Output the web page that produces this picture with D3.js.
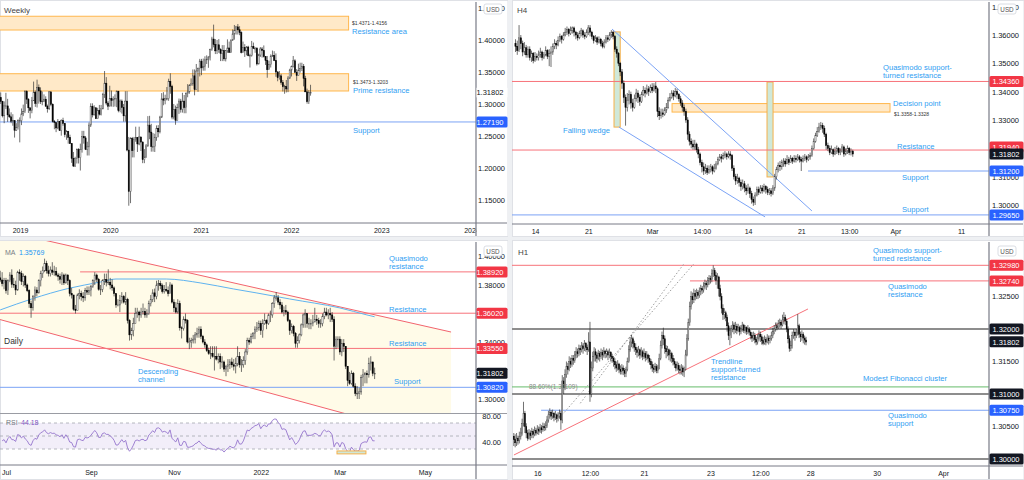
<!DOCTYPE html>
<html>
<head>
<meta charset="utf-8">
<script src="https://cdn.jsdelivr.net/npm/d3@7"></script>
<style>
  body { margin: 0; background: #fff; }
  svg { display: block; font-family: "Liberation Sans", Arial, sans-serif; }
</style>
</head>
<body>
<div id="wrapper"></div>
<script>
// ---------- data (prices in pips: 13040 = 1.3040) ----------
// weekly GBP/USD, week of 15 Oct 2018 onwards
var weeklyOpen0 = 13100;
var weeklyClose = [13040,12815,12970,12970,12830,12800,12730,12740,12590,12630,12740,12740,
  12845,12880,13195,13075,12940,12900,13050,13185,13010,13255,13205,13035,13045,13075,12965,12925,13190,12995,12725,12710,12625,12730,12585,12745,12695,12520,12570,12480,12380,12150,12030,12150,12285,12160,12290,12495,12470,12290,12330,12670,12965,12830,12940,12770,12900,12840,12925,13150,13325,13015,12965,13085,
  13055,13070,13085,13200,12895,13045,12945,12815,13045,12280,11635,12460,12270,12450,12475,12375,12485,12405,12130,12170,12345,12670,12560,12335,12335,12480,12620,12565,12795,13080,13060,13085,13085,13355,13275,12795,12915,12745,12945,13045,12915,13045,12945,13165,13190,13285,13315,13440,13225,13515,13555,13670,
  13565,13590,13690,13700,13735,13850,14015,13930,13830,13925,13850,13790,13835,13705,13835,13875,13805,14000,14095,14145,14205,14160,14115,13805,13885,13830,13890,13755,13760,13900,13870,13870,13625,13765,13860,13835,13740,13680,13535,13615,13745,13755,13680,13500,13410,13440,13335,13270,13270,13235,13405,13530,
  13585,13675,13495,13445,13525,13555,13590,13400,13190,13035,13180,13180];
var weeklyHigh = [13180,13050,13040,13175,13080,12930,12870,12840,12670,12700,12760,12790,
  12930,12990,13215,13215,13090,12950,13110,13350,13210,13380,13305,13260,13195,13150,13120,12990,13200,13180,13010,12750,12700,12765,12735,12760,12785,12700,12590,12580,12520,12380,12250,12175,12305,12310,12380,12580,12580,12500,12410,12710,13010,13010,12980,12950,12940,12985,12985,13175,13515,13420,13045,13285,
  13210,13120,13150,13210,13205,13070,13070,13000,13200,13200,12485,12480,12485,12485,12645,12480,12645,12485,12415,12295,12375,12810,12815,12690,12545,12535,12665,12670,12815,13170,13185,13145,13265,13395,13480,13300,13000,12975,13005,13085,13080,13175,13140,13180,13310,13310,13400,13540,13540,13625,13570,13705,
  13705,13710,13745,13760,13745,13865,14050,14240,14015,14000,14015,13870,13920,13920,13840,14010,13975,14005,14165,14235,14220,14250,14215,14135,13975,13935,13905,13910,13785,13985,13960,13890,13890,13785,13890,13890,13915,13750,13750,13675,13775,13835,13825,13790,13515,13515,13470,13375,13300,13375,13435,13550,
  13600,13750,13700,13545,13630,13645,13645,13625,13440,13240,13215,13300];
var weeklyLow = [13000,12790,12700,12920,12720,12780,12700,12660,12475,12580,12600,12400,
  12670,12810,12860,13000,12860,12775,12855,13080,12955,12945,13005,13000,12980,13030,12960,12865,12905,12965,12710,12605,12560,12605,12580,12505,12660,12480,12440,12380,12375,12080,12015,12015,12070,12070,11960,12240,12380,12280,12195,12195,12640,12790,12820,12765,12770,12820,12820,12915,13095,12980,12905,13075,
  12960,12955,12960,12950,12870,12870,12850,12725,12725,12260,11410,11450,12165,12165,12410,12250,12355,12265,12075,12075,12160,12330,12450,12255,12255,12250,12425,12480,12540,12780,12980,12995,13055,13050,13160,12760,12760,12675,12800,12845,12865,12865,12855,12855,13105,13160,13300,13285,13135,13230,13190,13430,
  13450,13520,13520,13625,13565,13680,13830,13885,13780,13780,13800,13670,13670,13670,13665,13800,13805,13800,13985,14005,14085,14085,14075,13790,13830,13735,13760,13745,13570,13740,13860,13800,13600,13620,13735,13725,13725,13610,13410,13545,13570,13735,13670,13425,13355,13380,13300,13195,13160,13180,13185,13390,
  13430,13570,13490,13360,13445,13490,13515,13275,13185,13005,13000,13130];
var weeklyYears = [2019, 2020, 2021, 2022, 2023, 2024];
var weeklyTicks = [1.45, 1.40, 1.35, 1.30, 1.25, 1.20, 1.15];
var weeklyZones = [[1.4371, 1.4156], [1.3473, 1.3203]];
var weeklySupport = 1.2719;

// daily, trading days from 28 Jun 2021 to 25 Mar 2022
var dailyOpen0 = 13850;
var dailyClose = [13835,13810,13830,13760,13830,13870,13805,13800,13765,13890,
  13880,13825,13860,13800,13760,13670,13640,13720,13765,13745,
  13830,13880,13900,13950,13900,13880,13905,13890,13895,13870,
  13860,13840,13870,13815,13870,13830,13740,13730,13630,13620,
  13730,13740,13720,13710,13760,13750,13760,13790,13830,13870,
  13840,13770,13770,13830,13840,13820,13820,13800,13780,13740,
  13660,13660,13690,13720,13680,13700,13550,13450,13480,13530,
  13600,13610,13590,13610,13615,13590,13600,13670,13700,13745,
  13720,13800,13810,13795,13755,13770,13760,13740,13800,13680,
  13640,13610,13670,13500,13495,13560,13550,13400,13400,13410,
  13420,13450,13460,13490,13440,13400,13380,13340,13320,13320,
  13300,13300,13280,13300,13260,13260,13210,13230,13240,13260,
  13240,13230,13250,13300,13240,13240,13270,13330,13410,13400,
  13440,13460,13490,13500,13530,13480,13530,13550,13530,13590,
  13590,13670,13710,13710,13680,13660,13610,13620,13610,13550,
  13480,13510,13460,13390,13410,13450,13520,13590,13600,13530,
  13530,13530,13540,13560,13550,13530,13530,13580,13610,13590,
  13600,13590,13560,13370,13420,13420,13330,13390,13370,13230,
  13130,13110,13180,13090,13040,13040,13050,13150,13170,13180,
  13170,13250,13260,13180,13180];
var dailyHigh = [13900,13890,13850,13850,13840,13890,13910,13850,13830,13900,
  13910,13900,13880,13870,13810,13770,13690,13730,13790,13785,
  13840,13900,13930,13985,13970,13935,13930,13960,13935,13925,
  13885,13880,13890,13880,13880,13875,13840,13780,13730,13660,
  13740,13770,13760,13750,13780,13790,13790,13800,13840,13890,
  13880,13850,13800,13840,13880,13880,13910,13850,13840,13790,
  13740,13700,13730,13750,13730,13750,13710,13560,13500,13570,
  13640,13640,13620,13640,13670,13640,13630,13690,13730,13770,
  13775,13830,13835,13830,13810,13800,13820,13790,13820,13810,
  13700,13680,13700,13690,13510,13580,13600,13560,13430,13430,
  13450,13470,13500,13510,13510,13450,13420,13390,13360,13370,
  13370,13370,13370,13320,13320,13300,13270,13240,13280,13280,
  13290,13280,13290,13370,13330,13280,13300,13350,13430,13430,
  13460,13470,13510,13540,13550,13550,13560,13600,13560,13600,
  13620,13680,13730,13750,13730,13700,13680,13650,13660,13620,
  13560,13530,13520,13470,13440,13460,13530,13600,13630,13600,
  13570,13560,13590,13640,13590,13570,13560,13600,13640,13640,
  13630,13640,13610,13580,13440,13440,13440,13420,13420,13370,
  13230,13190,13200,13190,13110,13090,13080,13170,13210,13190,
  13200,13290,13300,13250,13220];
var dailyLow = [13820,13790,13770,13740,13730,13820,13780,13780,13730,13760,
  13830,13800,13790,13780,13750,13640,13570,13620,13690,13720,
  13740,13790,13850,13890,13880,13860,13860,13870,13865,13860,
  13830,13810,13800,13800,13810,13800,13720,13705,13620,13600,
  13620,13700,13690,13680,13690,13730,13730,13720,13780,13800,
  13820,13760,13730,13750,13800,13790,13800,13770,13760,13720,
  13640,13650,13610,13670,13670,13660,13530,13410,13415,13440,
  13530,13570,13545,13570,13590,13570,13570,13590,13650,13680,
  13680,13700,13760,13770,13740,13740,13750,13720,13740,13670,
  13610,13600,13600,13480,13425,13480,13530,13390,13350,13360,
  13390,13390,13430,13430,13420,13390,13360,13330,13310,13280,
  13290,13200,13270,13250,13210,13220,13190,13160,13190,13210,
  13220,13200,13180,13230,13220,13190,13220,13240,13310,13380,
  13390,13420,13420,13470,13480,13450,13430,13520,13490,13520,
  13540,13570,13640,13690,13660,13630,13600,13580,13590,13540,
  13450,13460,13440,13360,13360,13390,13440,13500,13500,13500,
  13490,13490,13510,13540,13520,13500,13500,13510,13560,13580,
  13560,13540,13540,13270,13350,13360,13310,13300,13330,13210,
  13090,13100,13100,13080,13020,13000,13000,13030,13090,13110,
  13110,13150,13200,13160,13140];
// moving average at a few bars
var maIndex = [0, 17, 35, 52, 60, 86, 104, 121, 133, 150, 176, 190, 194];
var maValue = [1.3625, 1.3705, 1.3775, 1.3821, 1.3842, 1.3842, 1.3814, 1.3772, 1.3744, 1.3702, 1.3639, 1.3590, 1.3577];
var maLabel = "1.35769";
var rsiLabel = "44.18";
var dailyTickIndex = [3, 47, 90, 135, 176, 220];
var dailyTickLabel = ["Jul", "Sep", "Nov", "2022", "Mar", "May"];
var dailyTicks = [1.40, 1.38, 1.34, 1.30];
var dailyChannelTop = [[29.4, 1.4095], [233.6, 1.3470]];
var dailyChannelBottom = [[-10, 1.3594], [233.6, 1.2695]];
var rsiTicks = [80, 40];

// H4, last 191 bars
var h4Open0 = 13570;
var h4Close = [13560,13545,13590,13570,13540,13555,13530,13550,13520,13535,
  13510,13525,13520,13530,13540,13520,13530,13545,13525,13535,
  13540,13560,13570,13565,13580,13595,13585,13600,13610,13620,
  13605,13615,13625,13610,13600,13590,13605,13615,13600,13595,
  13610,13625,13610,13595,13580,13590,13575,13585,13570,13560,
  13575,13590,13585,13600,13610,13595,13550,13535,13500,13470,
  13430,13380,13345,13370,13390,13360,13345,13375,13395,13380,
  13365,13390,13405,13395,13410,13400,13415,13405,13420,13410,
  13330,13315,13325,13320,13335,13345,13370,13380,13395,13385,
  13400,13390,13375,13360,13345,13330,13300,13250,13225,13215,
  13205,13215,13195,13180,13150,13135,13120,13130,13115,13125,
  13135,13120,13130,13145,13160,13170,13165,13175,13180,13170,
  13180,13175,13130,13100,13085,13095,13080,13065,13075,13060,
  13050,13060,13040,13020,13010,13035,13055,13045,13060,13050,
  13065,13055,13045,13050,13040,13060,13100,13125,13140,13135,
  13150,13155,13145,13160,13150,13165,13155,13165,13160,13170,
  13160,13155,13165,13170,13160,13170,13175,13200,13225,13245,
  13260,13275,13280,13270,13250,13210,13200,13185,13195,13180,
  13190,13200,13185,13190,13205,13180,13190,13200,13185,13190,13180];
var h4High = [13585,13580,13635,13600,13580,13575,13565,13560,13560,13545,
  13540,13540,13535,13545,13555,13545,13540,13560,13550,13550,
  13560,13570,13585,13580,13595,13605,13600,13610,13625,13630,
  13625,13630,13630,13630,13615,13610,13615,13625,13620,13610,
  13620,13635,13635,13615,13600,13600,13595,13595,13590,13580,
  13585,13600,13600,13610,13617,13615,13600,13560,13540,13505,
  13480,13440,13390,13395,13405,13400,13375,13390,13410,13405,
  13390,13400,13420,13415,13425,13420,13425,13430,13430,13434,
  13415,13345,13340,13340,13345,13360,13380,13395,13405,13405,
  13413,13410,13395,13385,13370,13355,13340,13310,13260,13235,
  13230,13230,13220,13205,13185,13160,13150,13145,13140,13140,
  13145,13140,13145,13155,13170,13180,13180,13185,13190,13185,
  13190,13190,13180,13140,13110,13110,13100,13090,13090,13085,
  13070,13075,13065,13050,13030,13045,13065,13065,13070,13070,
  13075,13070,13065,13060,13060,13070,13110,13135,13150,13155,
  13160,13165,13165,13176,13170,13176,13170,13176,13175,13180,
  13176,13170,13175,13180,13175,13180,13185,13210,13235,13255,
  13275,13290,13293,13290,13280,13255,13220,13210,13210,13200,
  13205,13210,13205,13200,13215,13210,13200,13210,13205,13200,13195];
var h4Low = [13540,13530,13540,13550,13525,13530,13520,13520,13510,13505,
  13500,13505,13510,13510,13520,13510,13515,13525,13515,13490,
  13487,13530,13550,13550,13560,13575,13570,13580,13595,13600,
  13595,13600,13605,13595,13585,13580,13585,13595,13590,13585,
  13590,13600,13595,13585,13570,13575,13565,13570,13560,13553,
  13553,13570,13575,13580,13590,13585,13540,13520,13490,13455,
  13410,13360,13280,13330,13355,13340,13330,13340,13365,13360,
  13350,13360,13385,13380,13390,13385,13395,13395,13400,13395,
  13310,13300,13305,13310,13315,13325,13340,13365,13375,13370,
  13380,13375,13365,13350,13330,13315,13290,13230,13210,13200,
  13195,13195,13185,13165,13140,13115,13106,13110,13106,13110,
  13115,13108,13115,13125,13140,13155,13150,13160,13165,13160,
  13165,13160,13120,13090,13071,13075,13065,13050,13055,13045,
  13035,13040,13025,13005,12997,13000,13030,13035,13040,13040,
  13045,13040,13035,13035,13030,13035,13050,13090,13115,13120,
  13125,13135,13135,13145,13141,13150,13145,13150,13150,13155,
  13150,13120,13150,13155,13150,13155,13160,13170,13195,13220,
  13240,13255,13265,13255,13240,13195,13190,13176,13180,13170,
  13176,13180,13176,13176,13185,13170,13175,13180,13176,13175,13170];
var h4TickIndex = [11, 41, 77, 105, 131, 161, 188, 214, 251];
var h4TickLabel = ["14", "21", "Mar", "14:00", "14", "21", "13:00", "Apr", "11"];
var h4Ticks = [1.37, 1.36, 1.35, 1.34, 1.33, 1.31, 1.30];
var h4WedgeTop = [[54.4, 1.3621], [167, 1.2979]];
var h4WedgeBottom = [[58.3, 1.3275], [140.6, 1.2958]];
var h4Highlights = [[55.5, 59, 1.3611, 1.3275], [141.7, 145.1, 1.3434, 1.3099]];
var h4Decision = [88.2, 211, 1.3358, 1.3328];

// H1, last 212 bars
var h1Open0 = 13035;
var h1Close = [13030,13025,13032,13028,13035,13040,13055,13070,13050,13040,
  13032,13040,13036,13042,13038,13044,13040,13046,13043,13048,
  13045,13050,13048,13052,13060,13068,13072,13066,13070,13064,
  13068,13062,13066,13070,13060,13120,13110,13130,13142,13138,
  13150,13146,13155,13152,13160,13165,13162,13170,13168,13174,
  13170,13178,13172,13168,13180,13100,13140,13158,13165,13160,
  13155,13162,13158,13164,13160,13166,13162,13165,13160,13164,
  13158,13155,13150,13145,13140,13146,13138,13135,13140,13136,
  13132,13138,13150,13168,13180,13185,13178,13172,13168,13164,
  13168,13160,13165,13158,13162,13156,13160,13155,13150,13145,
  13140,13138,13142,13136,13140,13155,13175,13190,13185,13170,
  13165,13168,13160,13162,13155,13150,13146,13140,13144,13138,
  13136,13140,13134,13138,13160,13185,13210,13235,13250,13245,
  13255,13250,13256,13252,13258,13262,13260,13266,13270,13268,
  13274,13278,13276,13285,13290,13282,13275,13280,13262,13250,
  13232,13222,13225,13218,13205,13190,13198,13200,13206,13200,
  13204,13198,13202,13196,13200,13206,13198,13202,13196,13200,
  13195,13190,13186,13190,13184,13180,13186,13192,13188,13182,
  13178,13184,13180,13186,13182,13185,13190,13196,13200,13205,
  13202,13208,13210,13206,13214,13218,13212,13200,13185,13170,
  13175,13190,13195,13190,13194,13205,13192,13188,13192,13186,13183,13180];
var h1High = [13040,13038,13040,13036,13042,13048,13062,13088,13074,13055,
  13045,13046,13044,13048,13046,13050,13048,13052,13050,13054,
  13052,13056,13055,13058,13066,13074,13078,13075,13076,13072,
  13074,13070,13072,13076,13074,13129,13126,13138,13150,13148,
  13158,13156,13160,13160,13166,13172,13170,13176,13175,13180,
  13178,13183,13180,13176,13195,13211,13150,13165,13172,13170,
  13165,13168,13166,13170,13168,13172,13168,13170,13168,13170,
  13166,13162,13158,13155,13150,13152,13148,13144,13146,13144,
  13140,13142,13156,13175,13188,13191,13188,13182,13178,13172,
  13174,13170,13172,13168,13170,13166,13166,13162,13160,13154,
  13150,13146,13148,13146,13145,13162,13182,13196,13202,13190,
  13175,13174,13170,13168,13165,13160,13155,13150,13150,13148,
  13144,13146,13144,13142,13168,13192,13216,13242,13258,13256,
  13262,13260,13262,13260,13264,13268,13266,13272,13276,13274,
  13280,13283,13282,13292,13298,13294,13288,13286,13282,13268,
  13255,13238,13232,13228,13222,13210,13204,13206,13212,13210,
  13211,13208,13208,13205,13206,13211,13208,13206,13204,13206,
  13203,13198,13195,13196,13194,13188,13192,13198,13196,13192,
  13188,13190,13188,13192,13190,13190,13196,13202,13206,13210,
  13210,13214,13216,13214,13222,13226,13222,13216,13204,13190,
  13182,13196,13200,13198,13200,13223,13208,13196,13198,13195,13190,13188];
var h1Low = [13020,13018,13020,13022,13024,13030,13036,13050,13040,13032,
  13028,13030,13029,13032,13032,13035,13036,13038,13037,13040,
  13039,13042,13043,13044,13048,13056,13062,13060,13062,13058,
  13060,13056,13058,13062,13045,13055,13100,13106,13125,13130,
  13135,13140,13142,13145,13148,13155,13156,13158,13160,13164,
  13162,13166,13165,13160,13165,13088,13095,13135,13150,13150,
  13148,13152,13150,13154,13152,13156,13155,13156,13152,13155,
  13150,13148,13142,13138,13134,13136,13132,13130,13130,13129,
  13126,13126,13135,13148,13165,13172,13170,13165,13160,13156,
  13158,13154,13156,13152,13154,13150,13152,13148,13145,13138,
  13134,13132,13134,13132,13132,13138,13152,13170,13175,13162,
  13155,13158,13152,13150,13148,13144,13140,13135,13136,13132,
  13130,13130,13128,13126,13136,13158,13182,13205,13230,13238,
  13240,13244,13246,13246,13248,13252,13254,13256,13262,13260,
  13264,13268,13270,13272,13280,13275,13268,13262,13250,13244,
  13224,13214,13215,13212,13196,13183,13175,13186,13195,13192,
  13194,13192,13195,13190,13192,13196,13194,13193,13191,13192,
  13190,13184,13180,13182,13178,13175,13176,13182,13180,13176,
  13175,13176,13175,13178,13176,13178,13182,13186,13192,13196,
  13198,13200,13202,13200,13204,13208,13206,13195,13178,13165,
  13166,13170,13185,13182,13186,13190,13186,13180,13182,13178,13176,13175];
var h1TickIndex = [17, 55, 94, 142, 178, 214, 262, 310];
var h1TickLabel = ["16", "12:00", "21", "23", "12:00", "28", "30", "Apr"];
var h1Ticks = [1.325, 1.315, 1.305];
var h1Trend = [[0.1, 1.30062], [212.4, 1.32308]];
var h1FibA = [[48, 1.30857], [122.7, 1.3300]];
var h1FibB = [[34.8, 1.30677], [129.9, 1.3300]];

var last = 1.31802;

// ---------- helpers ----------
var P = 10000;
var blueText = "#2f9ef2", redLine = "#f7727a", blueLine = "#7ba3f5";

function toCandles(open0, close, high, low) {
  return close.map(function(c, i) {
    var o = i ? close[i - 1] : open0;
    return { i: i, o: o / P, c: c / P,
      h: Math.max(high[i], o, c) / P, l: Math.min(low[i], o, c) / P };
  });
}

var svg = d3.select("#wrapper").append("svg")
  .attr("width", 1024).attr("height", 480);
var defs = svg.append("defs");

svg.append("rect").attr("width", 1024).attr("height", 480).attr("fill", "#eef0f3");

function clip(id, x, y, w, h) {
  defs.append("clipPath").attr("id", id).append("rect")
    .attr("x", x).attr("y", y).attr("width", w).attr("height", h);
  return "url(#" + id + ")";
}

function drawCandles(g, data, fx, y, bw) {
  var c = g.append("g");
  c.selectAll("line").data(data).enter().append("line")
    .attr("x1", fx).attr("x2", fx)
    .attr("y1", function(d) { return y(d.h); })
    .attr("y2", function(d) { return y(d.l); })
    .attr("stroke", "#333").attr("stroke-width", 0.7);
  c.selectAll("rect").data(data).enter().append("rect")
    .attr("x", function(d) { return fx(d) - bw / 2; })
    .attr("width", bw)
    .attr("y", function(d) { return y(Math.max(d.o, d.c)); })
    .attr("height", function(d) { return Math.max(0.7, Math.abs(y(d.o) - y(d.c))); })
    .attr("fill", function(d) { return d.c >= d.o ? "#fff" : "#000"; })
    .attr("stroke", function(d) { return d.c >= d.o ? "#444" : "#000"; })
    .attr("stroke-width", 0.5);
}

function hline(g, y, x1, x2, color, w, dash) {
  g.append("line").attr("x1", x1).attr("x2", x2).attr("y1", y).attr("y2", y)
    .attr("stroke", color).attr("stroke-width", w || 1)
    .attr("stroke-dasharray", dash || null);
}

function seg(g, pts, x, y, color, w, dash) {
  g.append("line")
    .attr("x1", x(pts[0][0])).attr("y1", y(pts[0][1]))
    .attr("x2", x(pts[1][0])).attr("y2", y(pts[1][1]))
    .attr("stroke", color).attr("stroke-width", w || 1)
    .attr("stroke-dasharray", dash || null);
}

function txt(g, x, y, lines, size, color, lh) {
  var t = g.append("text").attr("x", x).attr("y", y)
    .attr("font-size", size).attr("fill", color);
  lines.forEach(function(s, k) {
    t.append("tspan").attr("x", x).attr("dy", k ? lh : 0).text(s);
  });
  return t;
}

function tag(g, x, w, y, label, bg, fg) {
  g.append("rect").attr("x", x).attr("y", y - 5.5).attr("width", w).attr("height", 11)
    .attr("rx", 1.5).attr("fill", bg);
  g.append("text").attr("x", x + w - 4).attr("y", y + 2.7)
    .attr("text-anchor", "end").attr("font-size", 7.5).attr("fill", fg).text(label);
}

function usdBox(g, x, y) {
  g.append("rect").attr("x", x).attr("y", y).attr("width", 18).attr("height", 10)
    .attr("rx", 2).attr("fill", "#fff").attr("stroke", "#d1d4dc").attr("stroke-width", 0.8);
  g.append("text").attr("x", x + 9).attr("y", y + 7.5).attr("text-anchor", "middle")
    .attr("font-size", 6.3).attr("fill", "#555").text("USD");
}

function priceAxis(g, y, ticks, xText, fmt) {
  g.append("g").attr("transform", "translate(" + xText + ",0)")
    .call(d3.axisLeft(y).tickValues(ticks).tickFormat(fmt || d3.format(".5f"))
      .tickSize(0).tickPadding(0))
    .call(function(a) {
      a.select(".domain").remove();
      a.selectAll("text").attr("font-size", 7.5).attr("fill", "#131722")
        .attr("font-family", null);
    });
}

function dateAxis(g, x, ticks, fmt, yPos) {
  g.append("g").attr("transform", "translate(0," + yPos + ")")
    .call(d3.axisBottom(x).tickValues(ticks).tickFormat(fmt).tickSize(0).tickPadding(5.5))
    .call(function(a) {
      a.select(".domain").remove();
      a.selectAll("text").attr("font-size", 7).attr("fill", "#131722")
        .attr("font-family", null);
    });
}

function frame(x, y, w, h) {
  svg.append("rect").attr("x", x + 0.5).attr("y", y + 0.5).attr("width", w - 1).attr("height", h - 1)
    .attr("fill", "#fff").attr("stroke", "#dfe1e6");
}

function zone(g, x1, x2, y1, y2, fill, stroke) {
  g.append("rect").attr("x", x1).attr("width", x2 - x1)
    .attr("y", Math.min(y1, y2)).attr("height", Math.abs(y2 - y1))
    .attr("fill", fill).attr("stroke", stroke).attr("stroke-width", 1);
}

// ---------- Weekly (top left) ----------
frame(0, 0, 508, 237);
var gW = svg.append("g");
var xW = d3.scaleTime().domain([new Date(2019, 0, 1), new Date(2024, 0, 1)]).range([20, 471.5]);
var yW = d3.scaleLinear().domain([1.114, 1.4625]).range([223, 0]);
var weekStart = new Date(2018, 9, 15);
var weekly = toCandles(weeklyOpen0, weeklyClose, weeklyHigh, weeklyLow);
weekly.forEach(function(d) { d.date = d3.timeWeek.offset(weekStart, d.i); });

var pW = gW.append("g").attr("clip-path", clip("cW", 0, 0, 476, 223));
weeklyZones.forEach(function(z) {
  zone(pW, xW(new Date(2018, 0, 1)), xW(new Date(2022, 7, 22)), yW(z[0]), yW(z[1]), "#ffe9c8", "#ffb74d");
});
hline(pW, yW(weeklySupport), 0, 476, blueLine, 1);
drawCandles(pW, weekly, function(d) { return xW(d.date); }, yW, 1.2);

txt(gW, 4, 13, ["Weekly"], 8, "#444");
txt(gW, 352, 24.5, ["$1.4371-1.4156"], 5, "#333");
txt(gW, 352, 34, ["Resistance area"], 7.6, blueText);
txt(gW, 353, 83.5, ["$1.3473-1.3203"], 5, "#333");
txt(gW, 353, 93, ["Prime resistance"], 7.6, blueText);
txt(gW, 353, 133, ["Support"], 7.6, blueText);

dateAxis(gW, xW, weeklyYears.map(function(y) { return new Date(y, 0, 1); }), d3.timeFormat("%Y"), 223);
gW.append("rect").attr("x", 476.5).attr("y", 1).attr("width", 31).attr("height", 235).attr("fill", "#fff");
hline(gW, 223, 0, 507, "#787b86", 1);
gW.append("line").attr("x1", 476).attr("x2", 476).attr("y1", 2).attr("y2", 236)
  .attr("stroke", "#787b86").attr("stroke-width", 1.2);
priceAxis(gW, yW, weeklyTicks, 505);
tag(gW, 476.5, 31, yW(last), "1.31802", "#fff", "#131722");
tag(gW, 476.5, 31, yW(weeklySupport), "1.27190", "#2962ff", "#fff");
usdBox(gW, 484, 4);

// ---------- H4 (top right) ----------
frame(512, 0, 512, 237);
var gH4 = svg.append("g");
var xH4 = d3.scaleLinear().domain([0, 100]).range([515.5, 515.5 + 177.5]);
var yH4 = d3.scaleLinear().domain([1.30, 1.36]).range([205, 35]);
var h4 = toCandles(h4Open0, h4Close, h4High, h4Low);
var pH4 = gH4.append("g").attr("clip-path", clip("cH4", 512, 0, 477, 224));

zone(pH4, xH4(h4Decision[0]), xH4(h4Decision[1]), yH4(h4Decision[2]), yH4(h4Decision[3]), "#ffe9c8", "#ffb74d");
h4Highlights.forEach(function(r) {
  zone(pH4, xH4(r[0]), xH4(r[1]), yH4(r[2]), yH4(r[3]), "#cfe8d9", "#f5b04b");
});
hline(pH4, yH4(1.3436), 512, 989, redLine, 1);
hline(pH4, yH4(1.3194), 512, 989, redLine, 1);
hline(pH4, yH4(1.312), xH4(164.8), 989, blueLine, 1);
hline(pH4, yH4(1.2965), 512, 989, blueLine, 1);
seg(pH4, h4WedgeTop, xH4, yH4, blueLine, 1);
seg(pH4, h4WedgeBottom, xH4, yH4, blueLine, 1);
drawCandles(pH4, h4, function(d) { return xH4(d.i); }, yH4, 1.2);

txt(gH4, 517, 13, ["H4"], 8, "#444");
txt(gH4, 883, 70, ["Quasimodo support-", "turned resistance"], 7.6, blueText, 8);
txt(gH4, 893, 106, ["Decision point"], 7.6, blueText);
txt(gH4, 894, 115.5, ["$1.3358-1.3328"], 5, "#333");
txt(gH4, 563, 133, ["Falling wedge"], 7.6, blueText);
txt(gH4, 897, 149, ["Resistance"], 7.6, blueText);
txt(gH4, 902, 180, ["Support"], 7.6, blueText);
txt(gH4, 902, 212, ["Support"], 7.6, blueText);

dateAxis(gH4, xH4, h4TickIndex, function(d, k) { return h4TickLabel[k]; }, 224);
gH4.append("rect").attr("x", 989.5).attr("y", 1).attr("width", 34).attr("height", 235).attr("fill", "#fff");
hline(gH4, 224, 512, 1023, "#787b86", 1);
gH4.append("line").attr("x1", 989).attr("x2", 989).attr("y1", 2).attr("y2", 236)
  .attr("stroke", "#787b86").attr("stroke-width", 1.2);
priceAxis(gH4, yH4, h4Ticks, 1019);
tag(gH4, 989.5, 34, yH4(1.3436), "1.34360", "#f23645", "#fff");
tag(gH4, 989.5, 34, yH4(1.3194) - 3, "1.31940", "#f23645", "#fff");
tag(gH4, 989.5, 34, yH4(last), "1.31802", "#131722", "#fff");
tag(gH4, 989.5, 34, yH4(1.312), "1.31200", "#2962ff", "#fff");
tag(gH4, 989.5, 34, yH4(1.2965), "1.29650", "#2962ff", "#fff");
usdBox(gH4, 998, 4);

// ---------- Daily (bottom left) ----------
frame(0, 240, 508, 240);
var gD = svg.append("g");
var xD = d3.scaleLinear().domain([0, 100]).range([0.2, 193.2]);
var yD = d3.scaleLinear().domain([1.30, 1.40]).range([399, 256.5]);
var yR = d3.scaleLinear().domain([30, 70]).range([449, 423]);
var daily = toCandles(dailyOpen0, dailyClose, dailyHigh, dailyLow);
var pD = gD.append("g").attr("clip-path", clip("cD", 0, 241, 476, 172));

// channel fill
var topSlope = (dailyChannelTop[1][1] - dailyChannelTop[0][1]) / (dailyChannelTop[1][0] - dailyChannelTop[0][0]);
var topLeft = [-10, dailyChannelTop[0][1] + topSlope * (-10 - dailyChannelTop[0][0])];
pD.append("path")
  .attr("d", d3.line().x(function(d) { return xD(d[0]); }).y(function(d) { return yD(d[1]); })(
    [topLeft, dailyChannelTop[1], dailyChannelBottom[1], dailyChannelBottom[0]]) + "Z")
  .attr("fill", "#fffbe8");
seg(pD, [topLeft, dailyChannelTop[1]], xD, yD, "#f2646e", 1);
seg(pD, dailyChannelBottom, xD, yD, "#f2646e", 1);

hline(pD, yD(1.3892), xD(41.4), 476, redLine, 1);
hline(pD, yD(1.3602), 0, 476, redLine, 1);
hline(pD, yD(1.3355), 0, 476, redLine, 1);
hline(pD, yD(1.3082), 0, 476, blueLine, 1);

pD.append("path")
  .datum(maIndex.map(function(k, j) { return [k, maValue[j]]; }))
  .attr("d", d3.line().curve(d3.curveMonotoneX)
    .x(function(d) { return xD(d[0]); }).y(function(d) { return yD(d[1]); }))
  .attr("fill", "none").attr("stroke", "#5fb3f0").attr("stroke-width", 1);

drawCandles(pD, daily, function(d) { return xD(d.i); }, yD, 1.3);

txt(gD, 5, 254.5, ["MA"], 7, "#787b86");
txt(gD, 19, 254.5, [maLabel], 7, "#2196f3");
txt(gD, 389, 260.5, ["Quasimodo", "resistance"], 7.6, blueText, 8);
txt(gD, 389, 312, ["Resistance"], 7.6, blueText);
txt(gD, 389, 346, ["Resistance"], 7.6, blueText);
txt(gD, 4, 343.5, ["Daily"], 8.5, "#333");
txt(gD, 138, 374, ["Descending", "channel"], 7.6, blueText, 8);
txt(gD, 394, 384, ["Support"], 7.6, blueText);

// RSI pane
var pR = gD.append("g").attr("clip-path", clip("cR", 0, 414, 476, 51));
pR.append("rect").attr("x", 0).attr("width", 476).attr("y", yR(70)).attr("height", yR(30) - yR(70))
  .attr("fill", "rgba(126,87,194,0.1)");
[70, 50, 30].forEach(function(v) { hline(pR, yR(v), 0, 476, "#a3a6af", 0.8, "3,3"); });

function calcRsi(cl, n) {
  var gain = 0, loss = 0, out = [];
  for (var k = 1; k <= n; k++) {
    var ch0 = cl[k] - cl[k - 1];
    if (ch0 > 0) gain += ch0; else loss -= ch0;
  }
  var ag = gain / n, al = loss / n;
  for (var i = 1; i < cl.length; i++) {
    var ch = cl[i] - cl[i - 1];
    ag = (ag * (n - 1) + Math.max(ch, 0)) / n;
    al = (al * (n - 1) + Math.max(-ch, 0)) / n;
    out.push({ i: i, v: al === 0 ? 100 : 100 - 100 / (1 + ag / al) });
  }
  return out;
}
var rsi = calcRsi(dailyClose, 14);
pR.append("path").datum(rsi)
  .attr("d", d3.line().x(function(d) { return xD(d.i); }).y(function(d) { return yR(d.v); }))
  .attr("fill", "none").attr("stroke", "#9575cd").attr("stroke-width", 0.9);
zone(pR, xD(174.5), xD(189.5), yR(27), yR(22.5), "#cfe8d9", "#f5b04b");
txt(gD, 6, 424.5, ["RSI"], 7, "#787b86");
txt(gD, 21, 424.5, [rsiLabel], 7, "#7e57c2");

hline(gD, 413.5, 0, 507, "#9a9ca3", 1);
dateAxis(gD, xD, dailyTickIndex, function(d, k) { return dailyTickLabel[k]; }, 465);
gD.append("rect").attr("x", 476.5).attr("y", 241).attr("width", 31).attr("height", 238).attr("fill", "#fff");
hline(gD, 413.5, 476, 507, "#9a9ca3", 1);
hline(gD, 465, 0, 507, "#787b86", 1);
gD.append("line").attr("x1", 476).attr("x2", 476).attr("y1", 242).attr("y2", 479)
  .attr("stroke", "#787b86").attr("stroke-width", 1.2);
priceAxis(gD, yD, dailyTicks, 505);
priceAxis(gD, yR, rsiTicks, 501, d3.format(".2f"));
tag(gD, 476.5, 31, yD(1.3892), "1.38920", "#f23645", "#fff");
tag(gD, 476.5, 31, yD(1.3602), "1.36020", "#f23645", "#fff");
tag(gD, 476.5, 31, yD(1.3355), "1.33550", "#f23645", "#fff");
tag(gD, 476.5, 31, yD(last), "1.31802", "#131722", "#fff");
tag(gD, 476.5, 31, yD(1.3082), "1.30820", "#2962ff", "#fff");
usdBox(gD, 484, 246);

// ---------- H1 (bottom right) ----------
frame(512, 240, 512, 240);
var gH1 = svg.append("g");
var xH1 = d3.scaleLinear().domain([0, 100]).range([513.8, 513.8 + 138.5]);
var yH1 = d3.scaleLinear().domain([1.30, 1.33]).range([459, 264]);
var h1 = toCandles(h1Open0, h1Close, h1High, h1Low);
var pH1 = gH1.append("g").attr("clip-path", clip("cH1", 512, 241, 477, 225));

hline(pH1, yH1(1.3298), 512, 989, redLine, 1);
hline(pH1, yH1(1.3274), xH1(127.2), 989, redLine, 1);
hline(pH1, yH1(1.32), 512, 989, "#8d8d8d", 1.8);
hline(pH1, yH1(1.31109), 512, 989, "#66bb6a", 1);
hline(pH1, yH1(1.31), 512, 989, "#8d8d8d", 1.8);
hline(pH1, yH1(1.3075), xH1(19.7), 989, blueLine, 1);
hline(pH1, yH1(1.30), 512, 989, "#8d8d8d", 1.8);
seg(pH1, h1FibA, xH1, yH1, "#9e9e9e", 1, "1.5,2");
seg(pH1, h1FibB, xH1, yH1, "#9e9e9e", 1, "1.5,2");
seg(pH1, h1Trend, xH1, yH1, "#f7727a", 1);
drawCandles(pH1, h1, function(d) { return xH1(d.i); }, yH1, 0.95);

txt(gH1, 518, 254.5, ["H1"], 8, "#444");
txt(gH1, 529, yH1(1.31109) + 2.3, ["88.60%(1.31109)"], 6.4, "#8a8a8a");
txt(gH1, 873, 252.5, ["Quasimodo support-", "turned resistance"], 7.6, blueText, 8);
txt(gH1, 888, 288.5, ["Quasimodo", "resistance"], 7.6, blueText, 8);
txt(gH1, 711, 363.5, ["Trendline", "support-turned", "resistance"], 7.6, blueText, 8);
txt(gH1, 863, 380.5, ["Modest Fibonacci cluster"], 7.6, blueText);
txt(gH1, 888, 417.5, ["Quasimodo", "support"], 7.6, blueText, 8);

dateAxis(gH1, xH1, h1TickIndex, function(d, k) { return h1TickLabel[k]; }, 466);
gH1.append("rect").attr("x", 989.5).attr("y", 241).attr("width", 34).attr("height", 238).attr("fill", "#fff");
hline(gH1, 466, 512, 1023, "#787b86", 1);
gH1.append("line").attr("x1", 989).attr("x2", 989).attr("y1", 242).attr("y2", 479)
  .attr("stroke", "#787b86").attr("stroke-width", 1.2);
priceAxis(gH1, yH1, h1Ticks, 1019);
tag(gH1, 989.5, 34, yH1(1.3298), "1.32980", "#f23645", "#fff");
tag(gH1, 989.5, 34, yH1(1.3274), "1.32740", "#f23645", "#fff");
tag(gH1, 989.5, 34, yH1(1.32), "1.32000", "#131722", "#fff");
tag(gH1, 989.5, 34, yH1(last), "1.31802", "#131722", "#fff");
tag(gH1, 989.5, 34, yH1(1.31), "1.31000", "#131722", "#fff");
tag(gH1, 989.5, 34, yH1(1.3075), "1.30750", "#2962ff", "#fff");
tag(gH1, 989.5, 34, yH1(1.30), "1.30000", "#131722", "#fff");
usdBox(gH1, 998, 246);
</script>
</body>
</html>
